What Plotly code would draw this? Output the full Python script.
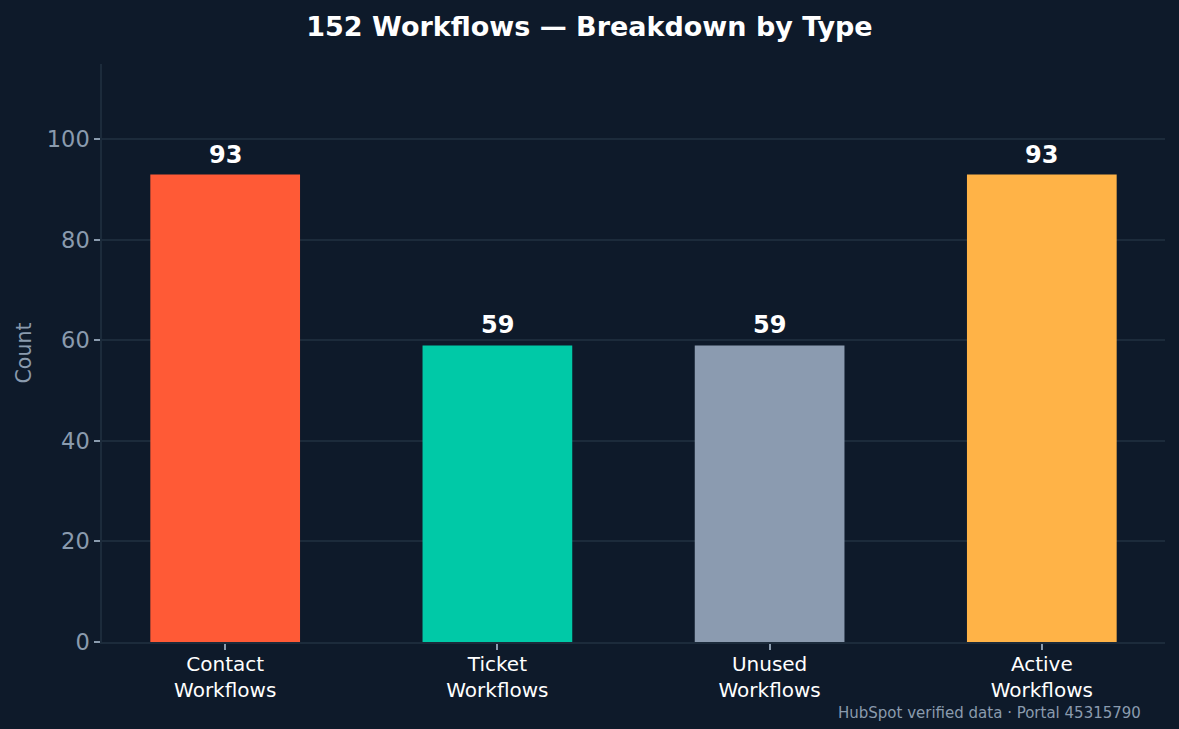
import plotly.graph_objects as go

categories = ["Contact<br>Workflows", "Ticket<br>Workflows", "Unused<br>Workflows", "Active<br>Workflows"]
counts = [93, 59, 59, 93]
bar_colors = ["#FF5A36", "#00C9A7", "#8B9BB0", "#FFB347"]
y_ticks = [0, 20, 40, 60, 80, 100]

bg = "#0E1A2A"
grid = "#1C2B3B"
muted = "#8A9BAE"
font = "DejaVu Sans"

xs = list(range(len(categories)))

fig = go.Figure()
fig.add_trace(go.Bar(
    x=xs,
    y=counts,
    width=0.55,
    marker=dict(color=bar_colors, line=dict(width=0)),
    hoverinfo="skip",
))

# value labels above the bars
for x, c in zip(xs, counts):
    fig.add_annotation(
        x=x, y=c, text="<b>%d</b>" % c, showarrow=False,
        yanchor="bottom", yshift=4,
        font=dict(family=font, size=24, color="white"),
    )

fig.update_layout(
    width=1179, height=729,
    paper_bgcolor=bg, plot_bgcolor=bg,
    margin=dict(l=102, r=14, t=64, b=87),
    showlegend=False,
    title=dict(text="<b>152 Workflows — Breakdown by Type</b>", x=0.5, xanchor="center",
               y=0.963, yanchor="middle",
               font=dict(family=font, size=27, color="white")),
    font=dict(family=font),
)
fig.update_xaxes(
    range=[-0.4525, 3.4525],
    tickvals=xs, ticktext=categories,
    tickfont=dict(family=font, size=20, color="white"),
    ticks="outside", ticklen=6, tickcolor=muted, tickwidth=1.5,
    ticklabelstandoff=-3,
    showgrid=False, zeroline=False,
    showline=True, linecolor=grid, linewidth=1.5,
)
fig.update_yaxes(
    range=[0, 115],
    tickvals=y_ticks,
    tickfont=dict(family=font, size=22.5, color=muted),
    ticks="outside", ticklen=6, tickcolor=muted, tickwidth=1.5,
    showgrid=True, gridcolor=grid, gridwidth=1.5,
    zeroline=False,
    showline=True, linecolor=grid, linewidth=1.5,
    title=dict(text="Count", font=dict(family=font, size=20.5, color=muted), standoff=10),
)
fig.add_annotation(
    text="HubSpot verified data · Portal 45315790",
    xref="paper", yref="paper", x=(1143 - 102) / (1165 - 102), y=-0.104,
    xanchor="right", yanchor="top", showarrow=False,
    font=dict(family=font, size=15, color=muted),
)

fig.write_html("out.html", config={"displayModeBar": False},
               post_script="document.body.style.margin='0';")
